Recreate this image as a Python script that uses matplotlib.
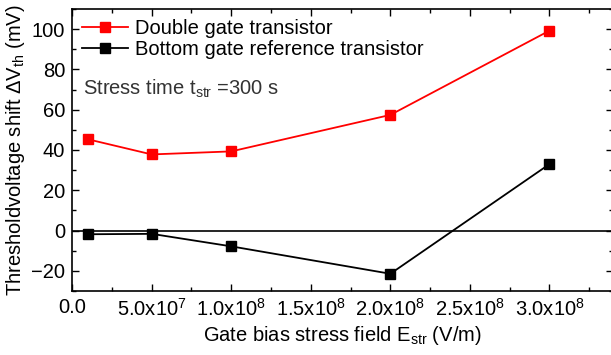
import numpy as np
import matplotlib.pyplot as plt
from matplotlib.ticker import MultipleLocator, FuncFormatter

plt.rcParams['font.family'] = ['Liberation Sans', 'DejaVu Sans']
plt.rcParams['mathtext.fontset'] = 'custom'
plt.rcParams['mathtext.rm'] = 'Liberation Sans'
plt.rcParams['mathtext.it'] = 'Liberation Sans:italic'
plt.rcParams['font.size'] = 14.5

# stress field (V/m) and threshold voltage shift (mV)
field = [1e7, 5e7, 1e8, 2e8, 3e8]
shift_double = [45.3, 37.8, 39.3, 57.4, 99.2]
shift_bottom = [-1.8, -1.6, -7.8, -21.4, 33.0]
labels = ["Double gate transistor", "Bottom gate reference transistor"]

fig = plt.figure(figsize=(6.11, 3.55), dpi=100)
ax = fig.add_axes([0.118, 0.180, 0.8855, 0.795])

ax.axhline(0, color='black', lw=1.2, zorder=1)
ax.plot(field, shift_double, color='#ff0000', marker='s', ms=7, lw=1.3, label=labels[0])
ax.plot(field, shift_bottom, color='black', marker='s', ms=7, lw=1.3, label=labels[1])

ax.set_xlim(0, 3.40e8)
ax.set_ylim(-30, 110)
ax.xaxis.set_major_locator(MultipleLocator(5e7))
ax.xaxis.set_minor_locator(MultipleLocator(2.5e7))
ax.yaxis.set_major_locator(MultipleLocator(20))
ax.yaxis.set_minor_locator(MultipleLocator(10))


def sci(v, pos):
    if v <= 0:
        return "0.0" if v == 0 else ""
    e = int(np.floor(np.log10(v)))
    return "%.1fx10$^{%d}$" % (v / 10 ** e, e)


ax.xaxis.set_major_formatter(FuncFormatter(sci))
ax.tick_params(which='both', direction='in', top=True, right=True, width=1)
ax.tick_params(which='major', length=5, labelsize=14.5, pad=5)
ax.tick_params(which='minor', length=3)
for s in ax.spines.values():
    s.set_linewidth(1.2)

ax.set_xlabel("Gate bias stress field E$_{\\mathrm{str}}$ (V/m)", fontsize=14.5, labelpad=3)
ax.set_ylabel("Thresholdvoltage shift \u0394V$_{\\mathrm{th}}$ (mV)", fontsize=14.5, labelpad=3)

ax.legend(loc='upper left', frameon=False, fontsize=14.5, handlelength=2.3,
          handletextpad=0.3, labelspacing=0.08, borderaxespad=0.1,
          bbox_to_anchor=(0.0, 1.0))
ax.text(0.02, 0.715, "Stress time t$_{\\mathrm{str}}$ =300 s", transform=ax.transAxes,
        fontsize=14.5, color='#333333', va='center')

fig.savefig("out.png", dpi=100)
